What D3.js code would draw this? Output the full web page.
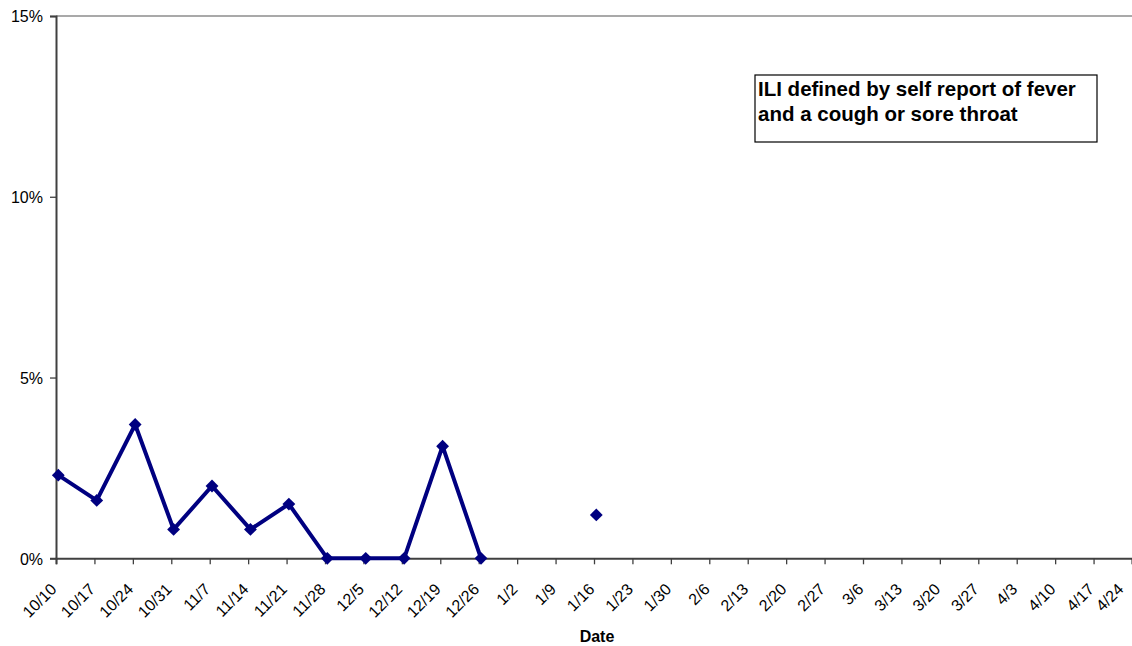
<!DOCTYPE html>
<html><head><meta charset="utf-8">
<script src="https://cdn.jsdelivr.net/npm/d3@7"></script>
<style>
body{margin:0;background:#fff;}
svg{display:block;font-family:"Liberation Sans",Arial,sans-serif;}
</style></head>
<body><svg id="c" width="1132" height="646"></svg>
<script>
const categories = ["10/10","10/17","10/24","10/31","11/7","11/14","11/21","11/28","12/5","12/12","12/19","12/26","1/2","1/9","1/16","1/23","1/30","2/6","2/13","2/20","2/27","3/6","3/13","3/20","3/27","4/3","4/10","4/17","4/24"];
const values = [2.3,1.6,3.7,0.8,2.0,0.8,1.5,0,0,0,3.1,0,null,null,1.2,null,null,null,null,null,null,null,null,null,null,null,null,null,null];
const yTicks = [0,5,10,15];
const xTitle = "Date";
const noteLines = ["ILI defined by self report of fever","and a cough or sore throat"];

const svg = d3.select("#c");
const L = 56, R = 1132, T = 16, B = 558.3;
const x = d3.scalePoint().domain(categories).range([L, R]);
const y = d3.scaleLinear().domain([0, 15]).range([B, T]);
const ptOff = 2.3;

// top border
svg.append("line").attr("x1", L).attr("x2", R).attr("y1", T).attr("y2", T)
  .attr("stroke", "#8c8c8c").attr("stroke-width", 1.5);

// y axis
const ya = svg.append("g").attr("transform", `translate(${L},0)`)
  .call(d3.axisLeft(y).tickValues(yTicks).tickFormat(d => d + "%").tickSizeOuter(0).tickSize(6).tickPadding(7));
ya.select(".domain").attr("stroke", "#404040").attr("stroke-width", 2);
ya.selectAll(".tick line").attr("stroke", "#404040").attr("stroke-width", 1.3);
ya.selectAll(".tick text").attr("font-size", 16).attr("fill", "#000")
  .attr("font-family", "Liberation Sans, Arial, sans-serif").attr("dy", "0.36em");

// x axis
const xa = svg.append("g").attr("transform", `translate(0,${B})`)
  .call(d3.axisBottom(x).tickSizeOuter(0).tickSize(6));
xa.select(".domain").attr("stroke", "#404040").attr("stroke-width", 2);
xa.selectAll(".tick line").attr("stroke", "#404040").attr("stroke-width", 1.3);
xa.selectAll(".tick text").attr("font-size", 16).attr("fill", "#000")
  .attr("font-family", "Liberation Sans, Arial, sans-serif")
  .attr("text-anchor", "end").attr("dy", 0).attr("y", 0)
  .attr("transform", d => {
    const dx = Math.min(1, 1124 - x(d));
    return `translate(${dx},32) rotate(-45)`;
  });

// x title
svg.append("text").attr("x", 597).attr("y", 642).attr("text-anchor", "middle")
  .attr("font-size", 16).attr("font-weight", "bold").text(xTitle);

// line
const data = categories.map((c, i) => ({c, v: values[i]}));
const line = d3.line().defined(d => d.v !== null).x(d => x(d.c) + ptOff).y(d => y(d.v));
svg.append("path").datum(data).attr("d", line).attr("fill", "none")
  .attr("stroke", "#000080").attr("stroke-width", 4).attr("stroke-linejoin", "miter");

// markers
const sym = d3.symbol().type(d3.symbolDiamond2).size(105);
svg.selectAll("path.m").data(data.filter(d => d.v !== null)).join("path").attr("class", "m")
  .attr("d", sym).attr("transform", d => `translate(${x(d.c) + ptOff},${y(d.v)})`)
  .attr("fill", "#000080");

// note box
const g = svg.append("g");
g.append("rect").attr("x", 755).attr("y", 75).attr("width", 342).attr("height", 67)
  .attr("fill", "#fff").attr("stroke", "#000").attr("stroke-width", 1.2);
g.selectAll("text").data(noteLines).join("text")
  .attr("x", 758).attr("y", (d, i) => 96 + i * 25)
  .attr("font-size", 20.5).attr("font-weight", "bold").attr("fill", "#000").text(d => d);
</script></body></html>
